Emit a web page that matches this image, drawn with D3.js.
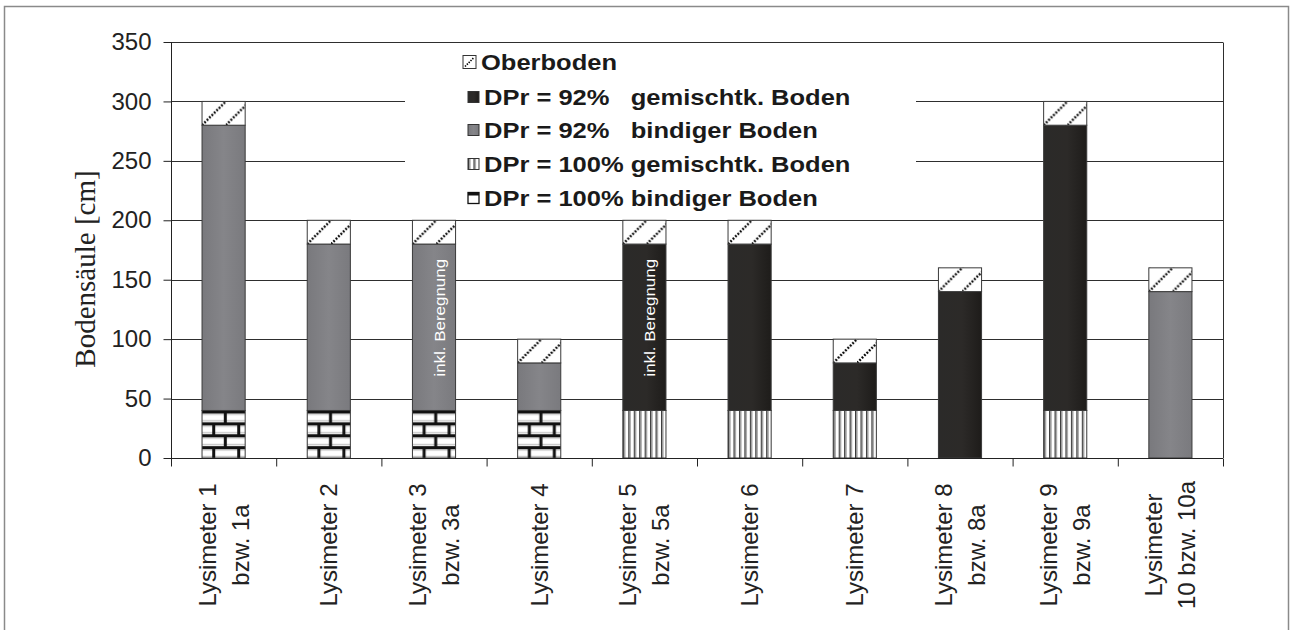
<!DOCTYPE html>
<html>
<head>
<meta charset="utf-8">
<script src="https://cdn.jsdelivr.net/npm/d3@7/dist/d3.min.js"></script>
<style>
  html, body { margin: 0; padding: 0; background: #fff; }
  svg { display: block; }
</style>
</head>
<body>
<svg id="chart" width="1290" height="630"></svg>
<script>
// Soil column composition per lysimeter (cm)
const categories = [
  ["Lysimeter 1", "bzw. 1a"],
  ["Lysimeter 2"],
  ["Lysimeter 3", "bzw. 3a"],
  ["Lysimeter 4"],
  ["Lysimeter 5", "bzw. 5a"],
  ["Lysimeter 6"],
  ["Lysimeter 7"],
  ["Lysimeter 8", "bzw. 8a"],
  ["Lysimeter 9", "bzw. 9a"],
  ["Lysimeter", "10 bzw. 10a"]
];
const bindig100 = [40, 40, 40, 40, 0, 0, 0, 0, 0, 0];
const gemischt100 = [0, 0, 0, 0, 40, 40, 40, 0, 40, 0];
const bindig92 = [240, 140, 140, 40, 0, 0, 0, 0, 0, 140];
const gemischt92 = [0, 0, 0, 0, 140, 140, 40, 140, 240, 0];
const oberboden = [20, 20, 20, 20, 20, 20, 20, 20, 20, 20];
const yTicks = [0, 50, 100, 150, 200, 250, 300, 350];
const seriesLabels = {
  oberboden: "Oberboden",
  gemischt92: "DPr = 92%   gemischtk. Boden",
  bindig92: "DPr = 92%   bindiger Boden",
  gemischt100: "DPr = 100% gemischtk. Boden",
  bindig100: "DPr = 100% bindiger Boden"
};
// notes written inside the compacted 92% segment of a bar
const notes = [
  { idx: 2, key: "bindig92", text: "inkl. Beregnung" },
  { idx: 4, key: "gemischt92", text: "inkl. Beregnung" }
];

const keys = ["bindig100", "gemischt100", "bindig92", "gemischt92", "oberboden"];
const legendOrder = ["oberboden", "gemischt92", "bindig92", "gemischt100", "bindig100"];
const seriesArrays = { bindig100, gemischt100, bindig92, gemischt92, oberboden };
const rows = categories.map((c, i) => {
  const r = { idx: i };
  keys.forEach(k => r[k] = seriesArrays[k][i]);
  return r;
});

const svg = d3.select("#chart");
const defs = svg.append("defs");

// --- fills ---
const gGrey = defs.append("linearGradient").attr("id", "fillGrey");
gGrey.append("stop").attr("offset", "0%").attr("stop-color", "#79797d");
gGrey.append("stop").attr("offset", "50%").attr("stop-color", "#858589");
gGrey.append("stop").attr("offset", "100%").attr("stop-color", "#7a7a7e");

const gDark = defs.append("linearGradient").attr("id", "fillDark");
gDark.append("stop").attr("offset", "0%").attr("stop-color", "#2b2a29");
gDark.append("stop").attr("offset", "55%").attr("stop-color", "#2c2a28");
gDark.append("stop").attr("offset", "100%").attr("stop-color", "#1e1c1a");

// brick pattern
const rowH = 11.9;
const brick = defs.append("pattern").attr("id", "brick")
  .attr("patternUnits", "userSpaceOnUse").attr("width", 25).attr("height", rowH * 2);
brick.append("rect").attr("width", 25).attr("height", rowH * 2).attr("fill", "#fff");
[0, rowH].forEach(y0 => {
  brick.append("rect").attr("x", 0).attr("y", y0 + 3).attr("width", 25).attr("height", 1.6).attr("fill", "#d0d0d0");
  brick.append("rect").attr("x", 0).attr("y", y0 + rowH - 2.2).attr("width", 25).attr("height", 1.4).attr("fill", "#c4c4c4");
  brick.append("rect").attr("x", 0).attr("y", y0).attr("width", 25).attr("height", 3).attr("fill", "#111");
});
brick.append("rect").attr("x", 21.8).attr("y", 0).attr("width", 3).attr("height", rowH).attr("fill", "#111");
brick.append("rect").attr("x", 10.2).attr("y", rowH).attr("width", 3).attr("height", rowH).attr("fill", "#111");

// vertical stripes
const stripes = defs.append("pattern").attr("id", "stripes")
  .attr("patternUnits", "userSpaceOnUse").attr("width", 5.45).attr("height", 10);
stripes.append("rect").attr("width", 5.45).attr("height", 10).attr("fill", "#fff");
stripes.append("rect").attr("x", 0).attr("width", 1.4).attr("height", 10).attr("fill", "#3a3a3a");
stripes.append("rect").attr("x", 1.4).attr("width", 1.1).attr("height", 10).attr("fill", "#9a9a9a");

// topsoil hatching
const hs = 23.8;
const hatch = defs.append("pattern").attr("id", "hatch")
  .attr("patternUnits", "userSpaceOnUse").attr("width", hs).attr("height", hs);
hatch.append("rect").attr("width", hs).attr("height", hs).attr("fill", "#fff");
hatch.append("line").attr("x1", 0).attr("y1", hs).attr("x2", hs).attr("y2", 0)
  .attr("stroke", "#000").attr("stroke-width", 2.4).attr("stroke-dasharray", "1.8 1.6");

const fills = {
  oberboden: "url(#hatch)",
  gemischt92: "url(#fillDark)",
  bindig92: "url(#fillGrey)",
  gemischt100: "url(#stripes)",
  bindig100: "url(#brick)"
};

// --- outer frame ---
svg.append("rect").attr("x", 4.5).attr("y", 6.5).attr("width", 1284).attr("height", 640)
  .attr("fill", "none").attr("stroke", "#8a8a8a").attr("stroke-width", 1.5);

// --- scales ---
const plotLeft = 171, plotRight = 1223, plotTop = 42, plotBottom = 458;
const y = d3.scaleLinear().domain([0, 350]).range([plotBottom, plotTop]);
const x = d3.scaleBand().domain(d3.range(categories.length)).range([plotLeft, plotRight])
  .paddingInner(0.59).paddingOuter(0.295);
const xEdge = d3.scaleLinear().domain([0, categories.length]).range([plotLeft, plotRight]);

// gridlines
svg.append("g").selectAll("line").data(yTicks.filter(t => t > 0)).join("line")
  .attr("x1", plotLeft).attr("x2", plotRight)
  .attr("y1", d => Math.round(y(d)) + 0.5).attr("y2", d => Math.round(y(d)) + 0.5)
  .attr("stroke", "#2e2e2e").attr("stroke-width", 1);

// plot border right side
svg.append("line").attr("x1", plotRight + 0.5).attr("x2", plotRight + 0.5)
  .attr("y1", Math.round(plotTop) + 0.5).attr("y2", plotBottom)
  .attr("stroke", "#2e2e2e").attr("stroke-width", 1);

// legend background hides gridlines behind it
svg.append("rect").attr("x", 405).attr("y", 45).attr("width", 511).attr("height", 168).attr("fill", "#fff");

// --- stacked bars ---
const stacked = d3.stack().keys(keys)(rows);
const barLayer = svg.append("g");
stacked.forEach(layer => {
  const k = layer.key;
  layer.forEach((seg, i) => {
    const h = y(seg[0]) - y(seg[1]);
    if (h <= 0) return;
    const g = barLayer.append("g")
      .attr("transform", `translate(${x(i)},${y(seg[1])})`);
    g.append("rect").attr("x", 0).attr("y", 0)
      .attr("width", x.bandwidth()).attr("height", h)
      .attr("fill", fills[k]).attr("stroke", "#3a3a3a").attr("stroke-width", 1);
  });
});

// notes inside bars, placed slightly above the middle of their segment
const layerByKey = {};
stacked.forEach(l => layerByKey[l.key] = l);
notes.forEach(n => {
  const seg = layerByKey[n.key][n.idx];
  const cx = x(n.idx) + x.bandwidth() / 2 + 11;
  const cy = y((seg[0] + seg[1]) / 2 + 8);
  svg.append("text")
    .attr("transform", `translate(${cx},${cy}) rotate(-90) scale(1.13,1)`)
    .attr("text-anchor", "middle")
    .attr("font-family", "Liberation Sans, Arial, sans-serif")
    .attr("font-size", 15).attr("fill", "#fff").text(n.text);
});

// --- axes ---
const yAxis = d3.axisLeft(y).tickValues(yTicks).tickSize(8).tickPadding(12);
const gy = svg.append("g").attr("transform", `translate(${plotLeft + 0.5},0)`).call(yAxis);
gy.select(".domain").attr("stroke", "#222").attr("d", `M0,${plotBottom}V${plotTop}`);
gy.selectAll(".tick line").attr("stroke", "#222");
gy.selectAll(".tick text").attr("font-family", "Liberation Sans, Arial, sans-serif")
  .attr("font-size", 24).attr("fill", "#222");

const xAxis = d3.axisBottom(xEdge).ticks(categories.length).tickSize(8).tickFormat("");
const gx = svg.append("g").attr("transform", `translate(0,${plotBottom + 0.5})`).call(xAxis);
gx.select(".domain").attr("stroke", "#222").attr("d", `M${plotLeft},0H${plotRight}`);
gx.selectAll(".tick line").attr("stroke", "#222");

// category labels (rotated, two-line where needed)
const lineGap = 33;
categories.forEach((lines, i) => {
  const cx = x(i) + x.bandwidth() / 2;
  const n = lines.length;
  lines.forEach((t, j) => {
    const off = (j - (n - 1) / 2) * lineGap;
    svg.append("text")
      .attr("transform", `translate(${cx + off + 8.5},545) rotate(-90)`)
      .attr("text-anchor", "middle")
      .attr("font-family", "Liberation Sans, Arial, sans-serif")
      .attr("font-size", 24).attr("fill", "#222").text(t);
  });
});

// y-axis title
svg.append("text")
  .attr("transform", "translate(95,269) rotate(-90)")
  .attr("text-anchor", "middle")
  .attr("font-family", "Liberation Serif, Times New Roman, serif")
  .attr("font-size", 29).attr("fill", "#222").text("Bodensäule [cm]");

// --- legend ---
const legend = svg.append("g");
const legendY = [62, 97, 130, 164, 198];
legendOrder.forEach((k, j) => {
  const ly = legendY[j];
  const big = k === "oberboden";
  const s = big ? 13 : 11;
  const lx = big ? 463 : 468;
  const g = legend.append("g").attr("transform", `translate(${lx},${ly - s / 2})`);
  if (k === "oberboden") {
    g.append("rect").attr("width", s).attr("height", s).attr("fill", "#fff")
      .attr("stroke", "#333").attr("stroke-width", 1);
    g.append("line").attr("x1", 2).attr("y1", s - 2).attr("x2", s - 2).attr("y2", 2)
      .attr("stroke", "#000").attr("stroke-width", 1.6).attr("stroke-dasharray", "1.4 1.2");
  } else if (k === "bindig100") {
    g.append("rect").attr("width", s).attr("height", s).attr("fill", "#fff")
      .attr("stroke", "#111").attr("stroke-width", 1.3);
    g.append("rect").attr("width", s).attr("height", 3).attr("fill", "#111");
  } else {
    g.append("rect").attr("width", s).attr("height", s).attr("fill", fills[k])
      .attr("stroke", "#333").attr("stroke-width", 1);
  }
  legend.append("text")
    .attr("transform", `translate(${big ? 481 : 484},${ly + 8}) scale(1.16,1)`)
    .attr("font-family", "Liberation Sans, Arial, sans-serif")
    .attr("font-weight", "bold").attr("font-size", 22).attr("fill", "#1a1a1a")
    .attr("xml:space", "preserve").style("white-space", "pre")
    .text(seriesLabels[k]);
});
</script>
</body>
</html>
